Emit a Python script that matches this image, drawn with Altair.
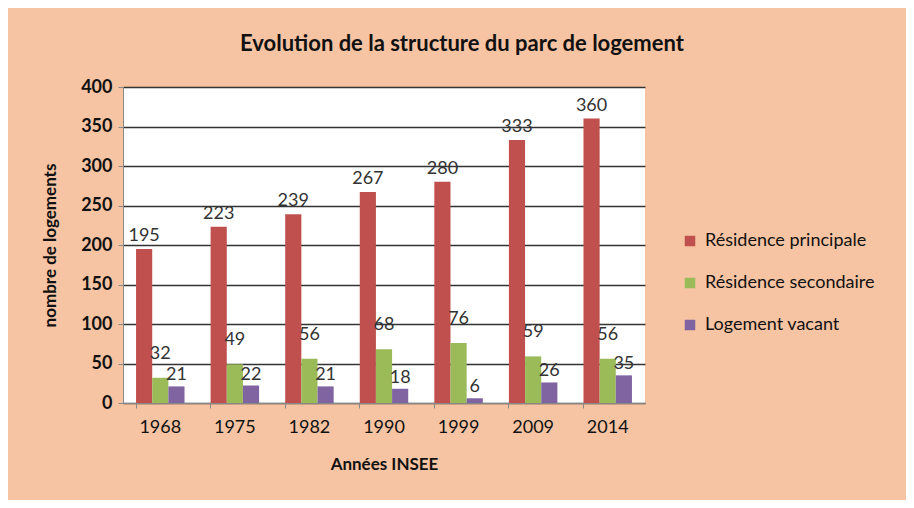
import altair as alt
import pandas as pd

years = ["1968", "1975", "1982", "1990", "1999", "2009", "2014"]
principale = [195, 223, 239, 267, 280, 333, 360]
secondaire = [32, 49, 56, 68, 76, 59, 56]
vacant = [21, 22, 21, 18, 6, 26, 35]
series = ["Résidence principale", "Résidence secondaire", "Logement vacant"]
colors = ["#C0504D", "#9BBB59", "#8064A2"]

rows = []
for i, y in enumerate(years):
    for s, vals in zip(series, [principale, secondaire, vacant]):
        rows.append({"year": y, "serie": s, "value": vals[i]})
df = pd.DataFrame(rows)

FONT = "Lato"

x = alt.X("year:N", sort=years, title="Années INSEE",
          scale=alt.Scale(paddingInner=0.35, paddingOuter=0.175),
          axis=alt.Axis(labelAngle=0, labelFontSize=18, labelColor="#111",
                        labelPadding=10, titleFontSize=17, titleFontWeight="bold",
                        titleColor="#111", titlePadding=20, bandPosition=0,
                        tickColor="#888", tickSize=5, domainColor="#888",
                        grid=False))
y = alt.Y("value:Q", title="nombre de logements",
          scale=alt.Scale(domain=[0, 400], nice=False),
          axis=alt.Axis(values=list(range(0, 401, 50)), labelFontSize=18,
                        labelFontWeight="bold", labelColor="#111", labelPadding=6,
                        titleFontSize=17, titleFontWeight="bold", titleColor="#111",
                        titleX=-64, gridColor="#333", gridWidth=1.3,
                        tickColor="#888", tickSize=5, domainColor="#888"))
xo = alt.XOffset("serie:N", sort=series)
color = alt.Color("serie:N", sort=series,
                  scale=alt.Scale(domain=series, range=colors),
                  legend=alt.Legend(title=None, orient="none", legendX=558, legendY=145,
                                    labelFontSize=18, labelColor="#111", symbolType="square",
                                    symbolSize=110, symbolStrokeWidth=0, rowPadding=24,
                                    labelOffset=6, labelLimit=400))

base = alt.Chart(df)
bars = base.mark_bar().encode(x=x, y=y, xOffset=xo, color=color)


def label_layer(serie, dy):
    return base.transform_filter(alt.datum.serie == serie).mark_text(
        dy=dy, fontSize=18, color="#333", font=FONT).encode(
        x=x, y=y, xOffset=xo, text="value:Q")


labels = (label_layer(series[0], -13) + label_layer(series[1], -24)
          + label_layer(series[2], -11))

chart = (bars + labels).properties(
    width=522, height=316,
    autosize=alt.AutoSizeParams(type="none"),
    padding={"left": 115, "top": 79, "right": 261, "bottom": 97},
    background="#F6C4A3",
    title=alt.TitleParams("Evolution de la structure du parc de logement",
                          fontSize=22, fontWeight="bold", color="#111",
                          anchor="middle", dx=78, offset=22, font=FONT),
).configure(font=FONT).configure_view(fill="white", stroke=None)

chart.save("out.html", embed_options={"renderer": "svg", "actions": False})
